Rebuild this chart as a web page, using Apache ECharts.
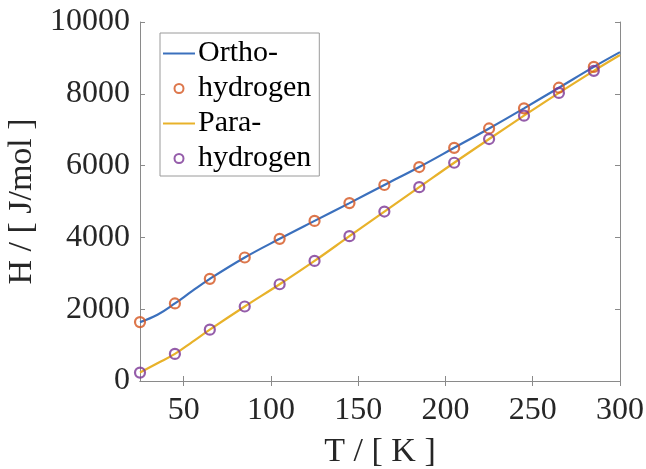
<!DOCTYPE html>
<html><head><meta charset="utf-8">
<script src="https://cdn.jsdelivr.net/npm/echarts@6/dist/echarts.min.js"></script>
<style>html,body{margin:0;padding:0;background:#fff}#c{width:646px;height:469px}</style>
</head><body><div id="c"></div>
<script>
// marker samples
const temps = [25,45,65,85,105,125,145,165,185,205,225,245,265,285];
const orthoH = [1640,2160,2845,3440,3960,4460,4955,5460,5960,6495,7035,7595,8170,8750];
const paraH  = [235,755,1430,2075,2695,3345,4035,4720,5400,6080,6740,7390,8025,8640];
// curve samples
const lineTemps = [25,35,45,55,65,85,105,125,145,165,185,205,225,245,265,285,300];
const orthoLineH = [1640,1845,2160,2510,2845,3440,3960,4460,4955,5460,5960,6495,7035,7595,8170,8750,9160];
const paraLineH  = [235,495,755,1090,1430,2075,2695,3345,4035,4720,5400,6080,6740,7390,8025,8640,9080];
const xTicks = [50,100,150,200,250,300];

const font = 'Liberation Serif';
const txt = '#262626';
const axisCol = '#8a8a8a';
const blue = '#3b70bd', orange = '#d4551f', yellow = '#e8b22a', purple = '#7b3595';

const orthoLine = lineTemps.map((t,i)=>[t,orthoLineH[i]]);
const paraLine = lineTemps.map((t,i)=>[t,paraLineH[i]]);

const chart = echarts.init(document.getElementById('c'), null, {renderer:'canvas'});
const baseX = {type:'value', min:25, max:300};
const baseY = {type:'value', min:0, max:10000, interval:2000};
const lineIcon = 'path://M0,0H32V2H0Z';
chart.setOption({
  animation:false,
  backgroundColor:'#fff',
  grid:{left:140, right:26, top:22, bottom:88, show:false, containLabel:false, outerBoundsMode:'none'},
  legend:{
    orient:'vertical', left:160, top:33,
    backgroundColor:'#fff', borderColor:'#9a9a9a', borderWidth:1,
    padding:[5,8,2,3], itemGap:4, itemWidth:32, itemHeight:9,
    textStyle:{fontFamily:font, fontSize:30, color:'#000', lineHeight:31, padding:[0,0,0,-2]},
    formatter:n=>n.trim(),
    data:[
      {name:'Ortho-', icon:lineIcon, itemStyle:{color:blue}},
      {name:'hydrogen'},
      {name:'Para-', icon:lineIcon, itemStyle:{color:yellow}},
      {name:'hydrogen '}
    ]
  },
  xAxis:[
    Object.assign({}, baseX, {position:'bottom',
      name:'T / [ K ]', nameLocation:'middle', nameGap:54,
      nameTextStyle:{fontFamily:font, fontSize:34, color:txt},
      axisLine:{show:true, lineStyle:{color:axisCol, width:1}},
      axisTick:{show:true, inside:true, length:5, lineStyle:{color:axisCol}, customValues:xTicks},
      axisLabel:{fontFamily:font, fontSize:32, color:txt, margin:14, customValues:xTicks},
      splitLine:{show:false}}),
    Object.assign({}, baseX, {position:'top',
      axisLine:{show:true, lineStyle:{color:axisCol, width:1}},
      axisTick:{show:true, inside:true, length:5, lineStyle:{color:axisCol}, customValues:xTicks},
      axisLabel:{show:false}, splitLine:{show:false}})
  ],
  yAxis:[
    Object.assign({}, baseY, {position:'left',
      name:'H / [ J/mol ]', nameLocation:'middle', nameGap:93, nameRotate:90,
      nameTextStyle:{fontFamily:font, fontSize:34, color:txt},
      axisLine:{show:true, lineStyle:{color:axisCol, width:1}},
      axisTick:{show:true, inside:true, length:5, lineStyle:{color:axisCol}},
      axisLabel:{fontFamily:font, fontSize:32, color:txt, margin:10, formatter:v=>String(v)},
      splitLine:{show:false}}),
    Object.assign({}, baseY, {position:'right',
      axisLine:{show:true, lineStyle:{color:axisCol, width:1}},
      axisTick:{show:true, inside:true, length:5, lineStyle:{color:axisCol}},
      axisLabel:{show:false}, splitLine:{show:false}})
  ],
  series:[
    {name:'Ortho-', type:'line', data:orthoLine, smooth:0.4, symbol:'none',
     lineStyle:{color:blue, width:2.2}, itemStyle:{color:blue}, z:2},
    {name:'hydrogen', type:'scatter', data:temps.map((t,i)=>[t,orthoH[i]]), symbol:'circle', symbolSize:10,
     itemStyle:{color:'rgba(0,0,0,0)', borderColor:orange, borderWidth:2.2}, z:4},
    {name:'Para-', type:'line', data:paraLine, smooth:0.4, symbol:'none',
     lineStyle:{color:yellow, width:2.2}, itemStyle:{color:yellow}, z:2},
    {name:'hydrogen ', type:'scatter', data:temps.map((t,i)=>[t,paraH[i]]), symbol:'circle', symbolSize:10,
     itemStyle:{color:'rgba(0,0,0,0)', borderColor:purple, borderWidth:2.2}, z:4}
  ]
});
</script></body></html>
